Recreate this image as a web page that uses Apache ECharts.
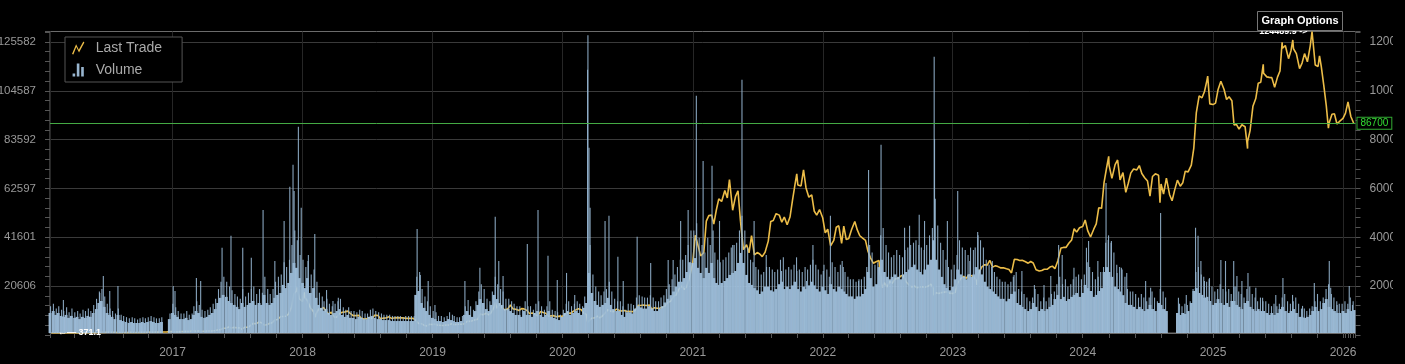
<!DOCTYPE html>
<html><head><meta charset="utf-8">
<script src="https://cdn.jsdelivr.net/npm/echarts@6/dist/echarts.min.js"></script>
<style>html,body{margin:0;padding:0;background:#000;overflow:hidden}#c{width:1393px;height:364px}</style>
</head><body><div id="c"></div><script>
// ---------------- data ----------------
const sampleDays = [1, 8, 15, 23];   // four base samples per month
const midDays = [4, 12, 19, 27];     // four in-between volume peaks per month
const xStart = '2016-01-27', xEnd = '2026-02-01';

const price2016 = [null,null,null,null, 373,374,401,420, 433,413,415,417, 417,421,428,447, 450,458,456,444, 536,576,690,625, 676,658,664,655, 606,590,567,583, 612,628,607,602, 613,617,637,657, 728,710,744,740, 753,766,778,920];
const price2017 = [1000,905,830,920, 985,1060,1010,1180, 1230,1150,1250,1030, 1080,1190,1170,1250, 1420,1640,1720,2280, 2400,2810,2450,2700, 2500,2510,1920,2750, 2730,3420,4330,4150, 4900,4620,3670,3780, 4400,4610,5690,5930, 7150,7140,7240,8230, 10900,16500,17700,14400];
const price2018 = [13400,14900,13600,10800, 9170,8200,10200,10100, 10900,9400,8200,8900, 6800,7000,8360,8930, 9080,9380,8470,7520, 7520,7620,6460,6150, 6350,6750,6360,7720, 7600,6280,6480,6530, 7020,6380,6530,6700, 6600,6610,6480,6400, 6380,6410,5600,4300, 4150,3610,3250,3950];
const price2019 = [3870,4010,3630,3550, 3480,3660,3620,4140, 3830,3900,3990,3990, 4150,5200,5150,5400, 5780,6000,8200,7880, 8530,7810,8750,11000, 10580,12300,10850,9850, 10400,11900,10300,10140, 9630,10400,10300,9700, 8300,8590,8160,7430, 9260,8800,8500,7300, 7420,7510,7060,7330];
const price2020 = [7200,8050,8820,8400, 9390,9900,10350,9960, 8550,8040,5360,6460, 6640,7330,6630,7480, 8830,9990,9380,9170, 10200,9760,9430,9640, 9230,9260,9130,9600, 11800,11680,11880,11660, 11920,10120,10790,10540, 10620,10920,11510,12930, 13560,15480,15960,18400, 19700,18320,19440,23240];
const price2021 = [29400,40600,36800,32100, 33500,46400,48700,48900, 45200,50900,55600,54500, 59000,56000,63200,50900, 56600,58900,46400,34700, 36700,33400,40500,32500, 33500,32900,31800,33600, 38200,46300,46700,49500, 48900,46000,48100,44900, 48100,55000,61500,61300, 60900,67500,60100,56300, 57200,50600,48900,51200];
const price2022 = [47700,41600,43100,36300, 38500,43900,44500,37300, 44400,38800,39300,43000, 46300,42800,40400,39400, 38500,34000,31300,29100, 29800,30200,20400,21100, 19300,21600,20800,22600, 22900,23800,24100,21500, 20000,19300,19700,19000, 19300,19400,19200,19600, 20500,18500,16900,16600, 17000,17200,17300,16800];
const price2023 = [16600,17100,20900,22700, 23700,22900,24300,23900, 23600,22000,24900,27500, 28500,28300,30300,27500, 28100,27700,27200,27200, 26800,26500,25100,30700, 30600,30200,30300,29800, 29100,29800,29200,26400, 25900,26100,26600,26600, 27500,27900,26800,30000, 35400,35600,35600,37300, 38700,43300,41900,43700];
const price2024 = [44200,46900,42500,39900, 43100,45300,51900,51700, 62400,68300,69500,64000, 69700,71600,63400,66400, 58300,62000,66200,67900, 67500,69300,66000,64300, 62900,56700,64800,65900, 65300,61700,57600,64100, 57300,54800,59100,63300, 60800,62200,67000,66700, 69500,76500,91000,98000, 97200,99800,104500,94700];
const price2025 = [94400,95000,100500,104000, 100600,96500,97600,96000, 86000,86200,84300,86100, 85300,79200,83700,93700, 96900,103200,103600,107300, 105800,105600,105500,101500, 105700,108200,117600,118700, 113300,116700,117400,115400, 109200,111500,115400,112000, 118600,121500,110700,110100, 110000,102300,94000,86800, 90400,90600,86400,87600];
const price2026 = [88700,90900,95500,89500];
const priceExtra = [
  ['2016-01-27',392],['2016-02-02',371.1],['2016-06-17',760],['2017-12-17',19100],['2018-01-06',17100],
  ['2018-02-06',6900],['2019-06-26',12900],['2020-03-12',4850],['2021-04-14',63500],['2021-10-20',65900],
  ['2022-06-18',19000],['2022-11-09',15900],['2023-03-10',20200],['2024-03-14',73100],['2024-08-05',54000],
  ['2024-12-17',106100],['2025-04-08',76300],['2025-05-22',111000],['2025-07-14',120000],['2025-08-13',121000],
  ['2025-10-06',124489.9],['2025-10-27',114500],['2025-11-21',84700],['2026-01-31',86700]
];

// volume (thousands): weekly base level
const vol2016 = [null,null,null,8.2, 9.0,7.4,8.2,7.0, 6.6,7.4,6.2,7.0, 6.2,6.6,5.7,6.6, 6.2,7.0,6.6,8.2, 9.8,12.3,13.1,10.7, 8.2,7.4,6.6,5.7, 7.4,5.3,4.9,4.5, 4.1,4.5,4.1,4.1, 4.1,4.5,4.1,4.5, 4.9,4.5,4.1,4.1, 4.5,0,0,5.7];
const vol2017 = [8.2,7.4,6.6,5.7, 5.7,6.2,5.3,5.7, 7.4,9.0,8.2,6.6, 6.2,6.6,7.4,8.2, 9.8,12.3,14.4,15.6, 14.8,13.1,12.3,11.5, 10.7,9.8,12.3,10.7, 11.5,12.3,13.1,11.5, 12.3,11.5,15.6,12.3, 11.5,12.3,14.4,15.6, 16.4,19.7,18.4,20.5, 24.6,28.7,26.7,22.5];
const vol2018 = [20.5,18.4,22.5,16.4, 18.4,14.4,11.5,10.3, 9.0,9.8,8.2,7.4, 8.2,9.0,9.8,7.4, 6.6,7.4,6.2,6.2, 5.7,6.6,6.2,5.7, 5.7,6.6,7.0,6.2, 5.7,5.7,5.3,5.3, 5.3,4.9,4.9,4.9, 4.9,4.9,4.9,4.9, 4.9,4.9,15.6,17.2, 12.3,10.3,9.0,7.4];
const vol2019 = [6.2,5.7,4.9,4.9, 4.5,4.9,5.7,5.3, 4.9,4.5,4.5,4.9, 7.4,9.0,7.4,6.6, 9.0,11.5,13.9,12.3, 9.8,9.0,11.5,15.6, 13.9,12.3,11.5,9.8, 9.8,9.0,8.2,7.4, 7.4,6.6,9.0,7.4, 7.4,6.6,8.2,9.0, 7.4,6.6,7.4,9.0, 6.6,6.2,5.7,5.3];
const vol2020 = [6.6,8.2,9.0,7.4, 8.2,9.0,8.2,7.4, 10.3,12.3,24.6,16.4, 13.1,11.5,10.7,11.5, 12.3,14.4,11.5,9.8, 9.0,9.0,7.4,6.6, 8.5,8.5,8,10, 11,10.5,10,10, 11,10,9,9, 10,11,12.5,14, 15.5,17,19,21, 21,22.5,25,29];
const vol2021 = [28.7,30.7,26.7,24.6, 22.5,26.7,24.6,28.7, 22.5,20.5,19.7,20.5, 21.3,22.5,23.8,24.6, 25.4,28.7,32.8,28.7, 23.8,20.5,19.7,18.4, 17.5,16,17,19, 19,17.5,17,18, 20,21,18,19, 18,19.5,21,18, 17,19,18,19.5, 21,19.5,18,17];
const vol2022 = [19,17.5,16,20, 18,17,19,18, 17,16,15,15, 14,15,15,16, 18,25,22.5,19, 20,27,30,25, 23,22,23,24, 23,22,24,25, 26,27,28,26, 25,24,26,28, 30,38,30,26, 23,20,18.5,17.5];
const vol2023 = [19,22,26,24, 23,22,24,23, 24,27,26,24, 21,19,18,17, 16,15,14,14, 13,14,16,17, 12.3,11.5,10.7,9.8, 9.0,9.8,12.3,10.7, 9.0,9.8,9.0,9.8, 10.7,11.5,13.9,15.6, 13.9,14.8,13.1,13.9, 14.8,15.6,16.4,14.8];
const vol2024 = [16.4,19.7,18.4,17.2, 14.8,15.6,17.2,18.4, 25,27,25,23, 19,18,17,15.5, 12.3,11.5,11.5,10.7, 9.8,10.7,9.8,9.0, 9.8,11.5,9.8,9.0, 12.3,11.5,9.8,9.0, 0,0,0,8.2, 7.4,8.2,7.8,9.0, 12.3,17.2,18.4,16.4, 15.6,14.4,14.8,13.1];
const vol2025 = [11.5,12.3,13.9,12.3, 11.5,12.3,10.7,13.1, 13.1,11.5,10.7,9.8, 12.3,13.1,10.7,9.8, 9.0,9.8,9.0,9.0, 8.2,7.4,8.2,7.4, 8.2,9.8,10.7,9.0, 8.2,9.0,9.8,8.2, 6.6,6.6,6.2,6.6, 7.4,9.0,10.7,9.0, 9.8,12.3,13.9,10.7, 9.8,9.0,8.2,8.2];
const vol2026 = [9.0,8.2,9.8,9.0, 9.4];

// volume (thousands): in-between daily peaks
const mid2016 = [null,null,null,11, 12,10,11,9.5, 9,10.5,8.5,10, 8.5,9,8,9.5, 9,10,9,11.5, 14,17,18,15, 12,10,9,8, 10,7.5,7,6.5, 6,6.5,6,5.5, 6,6.5,6,6.5, 7,6.5,6,6, 6.5,0,0,8];
const mid2017 = [12,10.5,9,8, 8,9,7.5,8, 11,13,11.5,9.5, 9,9.5,10.5,12, 14,18,21,23, 21,19,17.5,16, 15,14,18,15, 16.5,18,19,16, 18,16.5,23,18, 16,18,21,23, 24,29,27,30, 36,42,38,32];
const mid2018 = [30,27,32,24, 26,21,16.5,15, 13,14,12,11, 12,13,14,10.5, 9.5,10.5,9,9, 8.5,9.5,9,8, 8,9.5,10,9, 8.5,8,7.5,7.5, 7.5,7,7,7, 7,6.5,7,7, 7,7,23,25, 18,15,13,11];
const mid2019 = [9,8.5,7,7, 6.5,7,8.5,7.5, 7,6.5,6.5,7, 11,13.5,11,9.5, 13,17,20,18, 14,13,17,23, 20,18,17,14, 14,13,12,11, 11,9.5,13,11, 11,9.5,12,13, 11,9.5,11,13, 9.5,9,8.5,7.5];
const mid2020 = [9.5,12,13,11, 12,13,12,11, 15,18,36,24, 19,17,15.5,17, 18,21,17,14, 13,13,11,9.5, 12,12,11.5,14.5, 15.5,15,14.5,14.5, 15.5,14.5,13,13, 14.5,15.5,18,20, 22,24,27,30, 30,32,36,42];
const mid2021 = [42,45,39,36, 33,39,36,42, 33,30,29,30, 31,33,35,36, 37,42,48,42, 35,30,29,27, 26,24,25,27, 27,26,25,26, 30,31,26,27, 26,28,31,26, 25,27,26,28, 30,28,26,24];
const mid2022 = [28,26,23,29, 27,25,28,27, 25,23,22,22, 21,22,22,23, 27,36,33,28, 29,40,43,36, 33,31,32,34, 32,31,34,35, 36,37,38,36, 35,34,36,40, 43,55,44,37, 34,30,27,26];
const mid2023 = [28,32,38,35, 34,32,35,34, 35,40,38,35, 30,28,27,25, 23,22,21,21, 20,21,23,25, 18,17,16,14.5, 13,14.5,18,16, 13,14.5,13,14.5, 16,17,20,23, 20,22,19,20, 22,23,24,22];
const mid2024 = [24,29,27,25, 22,23,25,27, 37,40,37,33, 28,27,26,23, 18,17,17,16, 14.5,16,14.5,13, 14.5,17,14.5,13, 18,17,14.5,null, null,null,null,12, 11,12,11.5,13, 18,25,27,24, 23,21,22,19];
const mid2025 = [17,18,20,18, 17,18,16,19, 19,17,16,14.5, 18,19,16,14.5, 13,14.5,13,13, 12,11,12,11, 12,14.5,16,13, 12,13,14.5,12, 10,10,9,10, 11,13,16,13, 14.5,18,20,16, 14.5,13,12,12];
const mid2026 = [13,12,14.5,13];

// volume (thousands): single-day spikes
const volSpikes = [
  ['2016-03-03',13.5],['2016-06-13',16.4],['2016-06-23',23.4],['2016-07-11',17.2],['2016-08-03',19.3],
  ['2017-01-05',19.3],['2017-01-10',17.2],['2017-03-11',22.5],['2017-03-23',21.3],['2017-05-22',34.9],
  ['2017-06-16',39.8],['2017-07-19',34.9],['2017-08-12',30.8],['2017-09-14',50.4],['2017-10-17',29.5],
  ['2017-11-12',45.9],['2017-11-28',59.9],['2017-12-07',68.9],['2017-12-10',58.2],['2017-12-22',84.5],
  ['2017-12-30',51.3],['2018-01-18',29.5],['2018-02-06',40.6],['2018-03-11',17.6],['2018-03-29',13.1],
  ['2018-04-13',14.4],['2018-11-20',42.6],['2018-11-29',23.8],['2018-12-21',21.3],['2019-01-09',11.5],
  ['2019-04-03',21.3],['2019-05-15',26.7],['2019-06-27',47.6],['2019-07-07',29.5],['2019-07-19',23.4],
  ['2019-09-25',36.5],['2019-10-25',50.4],['2019-11-22',31.6],['2019-12-18',21.7],['2020-01-13',24.6],
  ['2020-02-05',15.6],['2020-03-12',107.8],['2020-03-13',122],['2020-03-16',75.9],['2020-03-19',51.3],
  ['2020-04-30',45.9],['2020-05-11',48.0],['2020-06-05',31.2],['2020-06-20',21.3],['2020-07-29',39.4],
  ['2020-09-05',28.7],['2020-10-24',29.9],['2020-11-07',29.9],['2020-11-28',45.9],['2020-12-19',50.4],
  ['2021-01-11',97.2],['2021-01-30',70.5],['2021-02-24',68.5],['2021-03-17',45.9],['2021-04-23',36.1],
  ['2021-05-19',103.7],['2021-06-22',45.9],['2021-07-26',32.0],['2021-09-07',25.4],['2021-10-20',25.4],
  ['2021-11-16',21.3],['2021-12-04',36.1],['2022-01-02',25.4],['2022-01-22',48.0],['2022-02-24',29.5],
  ['2022-04-11',21.3],['2022-05-09',66.8],['2022-06-13',77.1],['2022-08-18',43.1],['2022-09-01',43.9],
  ['2022-09-28',48.4],['2022-10-13',45.9],['2022-11-09',113.2],['2022-11-10',79.5],['2022-12-16',45.9],
  ['2023-01-14',58.2],['2023-02-17',29.5],['2023-03-11',41.4],['2023-04-21',29.5],['2023-06-21',23.8],
  ['2023-07-13',25.4],['2023-08-17',19.7],['2023-09-13',19.7],['2023-10-02',23.4],['2023-10-24',36.1],
  ['2023-11-03',32.0],['2023-12-06',26.7],['2024-01-10',34.9],['2024-01-16',37.7],['2024-02-11',29.5],
  ['2024-03-05',61.5],['2024-03-11',38.1],['2024-03-20',37.7],['2024-04-05',24.6],['2024-04-17',26.7],
  ['2024-05-02',24.6],['2024-06-24',21.3],['2024-07-08',18.5],['2024-08-05',49.2],['2024-09-24',14.4],
  ['2024-10-16',15.6],['2024-11-11',43.1],['2024-11-18',39.8],['2024-11-26',29.5],['2024-12-06',21.3],
  ['2024-12-20',22.5],['2025-01-21',29.9],['2025-02-03',29.5],['2025-02-26',29.5],['2025-03-07',23.4],
  ['2025-03-21',21.3],['2025-04-07',24.6],['2025-04-29',18.5],['2025-05-18',14.4],['2025-06-24',15.6],
  ['2025-07-14',22.5],['2025-08-10',15.6],['2025-09-07',11.1],['2025-10-10',20.5],['2025-11-21',29.5],
  ['2025-11-25',18.5],['2025-12-13',11.5],['2026-01-16',19.3],['2026-01-25',11.5]
];

const leftTicks = [20606, 41601, 62597, 83592, 104587, 125582];
const rightTicks = [20000, 40000, 60000, 80000, 100000, 120000];

// ---------------- build ----------------
function pad(n){ return n < 10 ? '0' + n : '' + n; }
function expand(year, arr, days){
  const out = [];
  arr.forEach((v, i) => {
    if (v == null) return;
    out.push([year + '-' + pad(Math.floor(i / 4) + 1) + '-' + pad(days[i % 4]), v]);
  });
  return out;
}
const byDate = (a, b) => a[0] < b[0] ? -1 : a[0] > b[0] ? 1 : 0;
const years = [2016,2017,2018,2019,2020,2021,2022,2023,2024,2025,2026];
const priceYears = [price2016,price2017,price2018,price2019,price2020,price2021,price2022,price2023,price2024,price2025,price2026];
const volYears = [vol2016,vol2017,vol2018,vol2019,vol2020,vol2021,vol2022,vol2023,vol2024,vol2025,vol2026];
const midYears = [mid2016,mid2017,mid2018,mid2019,mid2020,mid2021,mid2022,mid2023,mid2024,mid2025,mid2026];

let priceData = priceExtra.slice();
let volBase = [];
let volThin = volSpikes.slice();
years.forEach((y, k) => {
  priceData = priceData.concat(expand(y, priceYears[k], sampleDays));
  volBase = volBase.concat(expand(y, volYears[k], sampleDays));
  volThin = volThin.concat(expand(y, midYears[k], midDays));
});
priceData.sort(byDate);
volThin.sort(byDate);

const pVals = priceData.map(d => d[1]);
const pMin = Math.min.apply(null, pVals), pMax = Math.max.apply(null, pVals);
const lastPrice = priceData[priceData.length - 1][1];

// layout
const W = 1393, H = 364;
const gLeft = 50, gRight = W - 1355.5, gTop = 31.5, plotBottomY = 333, labelZeroY = 334.9, pxPerTick = 48.82;

const tickStep = (leftTicks[leftTicks.length - 1] - leftTicks[0]) / (leftTicks.length - 1);
const labMin = leftTicks[0] - tickStep;
const labMax = labMin + tickStep * (labelZeroY - gTop) / pxPerTick;
const volStep = (rightTicks[1] - rightTicks[0]) / 1000;
const volAxisMax = volStep * (labelZeroY - gTop) / pxPerTick;
const volDataMax = volStep * (plotBottomY - gTop) / pxPerTick;

const FONT = '"Liberation Sans", Arial, sans-serif';
const nearest = (arr, v) => arr.reduce((b, t) => Math.abs(t - v) < Math.abs(b - v) ? t : b, arr[0]);

const volColor = 'rgba(168,201,230,0.9)';
const thinColor = 'rgba(150,182,210,0.9)';
const chart = echarts.init(document.getElementById('c'), null, {renderer: 'canvas', width: W, height: H});
chart.setOption({
  animation: false,
  backgroundColor: '#000',
  textStyle: {fontFamily: FONT},
  grid: [
    {left: gLeft, right: gRight, top: gTop, bottom: H - plotBottomY, show: true, borderColor: '#6b6b6b', borderWidth: 1,
     backgroundColor: 'transparent', containLabel: false, outerBoundsMode: 'none'},
    {left: gLeft, right: gRight, top: gTop, bottom: H - labelZeroY, show: false, containLabel: false, outerBoundsMode: 'none'}
  ],
  legend: {
    left: 65, top: 37, orient: 'vertical', padding: [3, 20, 4, 7], itemGap: 6, itemWidth: 13, itemHeight: 13,
    borderColor: '#555', borderWidth: 1, backgroundColor: '#000', selectedMode: false,
    textStyle: {color: '#aaa', fontSize: 14, fontFamily: FONT, lineHeight: 16, padding: [0, 0, 0, 6]},
    data: [
      {name: 'Last Trade', icon: 'path://M0,12 L4,2.6 L6.6,8 L11,0 L12,0.9 L6.8,10.6 L4.2,5.4 L1.3,12.6 Z'},
      {name: 'Volume', icon: 'path://M0,10 h2.6 v3 h-2.6 Z M4.2,0 h2.6 v13 h-2.6 Z M8.6,3.5 h2.6 v9.5 h-2.6 Z'}
    ]
  },
  xAxis: [
    {type: 'time', gridIndex: 0, min: xStart, max: xEnd, minInterval: 365 * 864e5, maxInterval: 366 * 864e5,
     axisLine: {show: true, lineStyle: {color: '#6b6b6b'}},
     axisTick: {show: true, length: 5, lineStyle: {color: '#555'}},
     minorTick: {show: true, splitNumber: 5, length: 5, lineStyle: {color: '#555'}},
     splitLine: {show: true, lineStyle: {color: '#262626'}},
     axisLabel: {color: '#999', fontSize: 12, fontFamily: FONT, margin: 14,
                 formatter: v => String(new Date(v).getFullYear())}},
    {type: 'time', gridIndex: 1, min: xStart, max: xEnd, show: false},
    {type: 'time', gridIndex: 0, min: xStart, max: xEnd, show: false}
  ],
  yAxis: [
    {type: 'value', gridIndex: 0, min: pMin, max: pMax, show: false},
    {type: 'value', gridIndex: 0, min: 0, max: volDataMax, show: false},
    {type: 'value', gridIndex: 1, position: 'left', min: labMin, max: labMax, interval: tickStep,
     axisLine: {show: false},
     axisTick: {show: true, length: 5, lineStyle: {color: '#555'}},
     minorTick: {show: true, splitNumber: 5, length: 5, lineStyle: {color: '#555'}},
     splitLine: {show: true, showMinLine: false, showMaxLine: false, lineStyle: {color: '#3a3a3a'}},
     axisLabel: {color: '#999', fontSize: 11.5, fontFamily: FONT, margin: 14,
                 formatter: v => v > 0 ? String(nearest(leftTicks, v)) : ''}},
    {type: 'value', gridIndex: 1, position: 'right', min: 0, max: volAxisMax, interval: volStep,
     axisLine: {show: false},
     axisTick: {show: true, length: 5, lineStyle: {color: '#555'}},
     minorTick: {show: true, splitNumber: 5, length: 5, lineStyle: {color: '#555'}},
     splitLine: {show: false},
     axisLabel: {color: '#999', fontSize: 12, fontFamily: FONT, margin: 14,
                 formatter: v => v > 0 ? String(nearest(rightTicks, v * 1000)) : ''}}
  ],
  series: [
    {name: 'Last Trade', type: 'line', xAxisIndex: 0, yAxisIndex: 0, data: priceData, showSymbol: false, z: 2,
     color: '#ecbd48', lineStyle: {color: '#ecbd48', width: 1.6},
     markPoint: {
       z: 10, symbol: 'circle', symbolSize: 1, itemStyle: {color: 'rgba(0,0,0,0)'},
       data: [
         {type: 'max', label: {show: true, position: 'left', distance: 4, formatter: p => p.value + ' ->',
           color: '#fff', fontWeight: 'bold', fontSize: 9, fontFamily: FONT}},
         {type: 'min', label: {show: true, position: 'right', distance: 4, formatter: p => '\u2190\u2014 ' + p.value,
           color: '#fff', fontWeight: 'bold', fontSize: 9, fontFamily: FONT}}
       ]
     },
     markLine: {
       silent: true, symbol: ['none', 'none'], z: 10,
       lineStyle: {color: '#44aa44', width: 1, type: 'solid'},
       label: {show: true, position: 'end', distance: 2, formatter: () => String(lastPrice),
         color: '#33dd33', fontSize: 10, fontFamily: FONT, backgroundColor: '#000',
         borderColor: '#33aa33', borderWidth: 1, padding: [1, 3, 0, 3]},
       data: [{yAxis: lastPrice}]
     }},
    {name: 'Volume', type: 'bar', xAxisIndex: 0, yAxisIndex: 1, data: volBase, barWidth: 2.9, z: 3,
     color: volColor, itemStyle: {color: volColor}},
    {name: 'Volume', type: 'bar', xAxisIndex: 2, yAxisIndex: 1, data: volThin, barWidth: 1.1, z: 3,
     color: volColor, itemStyle: {color: thinColor}}
  ],
  graphic: [
    {type: 'rect', z: 100, shape: {x: 1257.5, y: 11.5, width: 85, height: 19},
     style: {fill: '#000', stroke: '#777', lineWidth: 1}},
    {type: 'text', z: 101, x: 1300, y: 21,
     style: {text: 'Graph Options', fill: '#fff', font: 'bold 11px ' + FONT,
             textAlign: 'center', textVerticalAlign: 'middle', align: 'center', verticalAlign: 'middle'}}
  ]
});
</script></body></html>
